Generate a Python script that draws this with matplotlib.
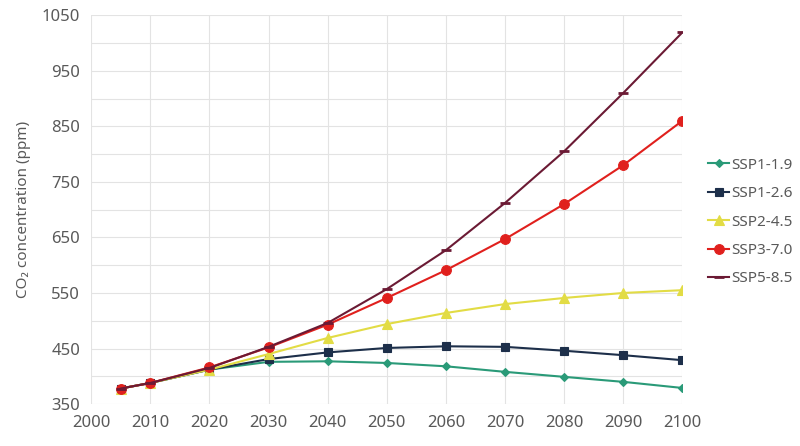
import matplotlib.pyplot as plt
from matplotlib.ticker import MultipleLocator

plt.rcParams["font.family"] = ["Noto Sans", "DejaVu Sans"]

years = [2005, 2010, 2020, 2030, 2040, 2050, 2060, 2070, 2080, 2090, 2100]

ssp119 = [378, 388, 412, 426, 427, 424, 418, 408, 399, 390, 379]
ssp126 = [378, 388, 412, 431, 443, 451, 454, 453, 446, 438, 429]
ssp245 = [378, 388, 412, 440, 469, 494, 514, 530, 541, 550, 555]
ssp370 = [378, 388, 416, 452, 493, 541, 591, 647, 710, 780, 860]
ssp585 = [378, 388, 415, 453, 496, 557, 627, 712, 805, 910, 1019]

y_ticks = [350, 450, 550, 650, 750, 850, 950, 1050]

series = [
    ("SSP1-1.9", ssp119, "#2a9a78", "D", 4.5),
    ("SSP1-2.6", ssp126, "#1d2f4a", "s", 6),
    ("SSP2-4.5", ssp245, "#e2dc45", "^", 7),
    ("SSP3-7.0", ssp370, "#e0201d", "o", 7),
    ("SSP5-8.5", ssp585, "#6b1a34", "_", 7),
]

fig = plt.figure(figsize=(8, 4.46), dpi=100)
ax = fig.add_axes([0.114, 0.094, 0.739, 0.872])

for name, vals, color, marker, ms in series:
    ax.plot(years, vals, color=color, lw=1.5, marker=marker, markersize=ms,
            markeredgewidth=2 if marker == "_" else 0.8, label=name)

ax.set_xlim(2000, 2100)
ax.set_ylim(350, 1050)
ax.xaxis.set_major_locator(MultipleLocator(10))
ax.set_yticks(y_ticks)
ax.yaxis.set_minor_locator(MultipleLocator(50))
ax.grid(True, which="both", color="#e3e3e3", lw=0.8)
ax.set_axisbelow(True)
for s in ax.spines.values():
    s.set_visible(False)
ax.tick_params(which="both", length=0, labelsize=12, labelcolor="#595959", pad=8)
ax.set_ylabel("CO₂ concentration (ppm)", fontsize=11, color="#595959", labelpad=8)

leg = ax.legend(loc="center left", bbox_to_anchor=(1.02, 0.468), frameon=False,
                fontsize=11, handlelength=1.4, handletextpad=0.1, labelspacing=0.88)
for t in leg.get_texts():
    t.set_color("#595959")

fig.savefig("out.png", dpi=100)
